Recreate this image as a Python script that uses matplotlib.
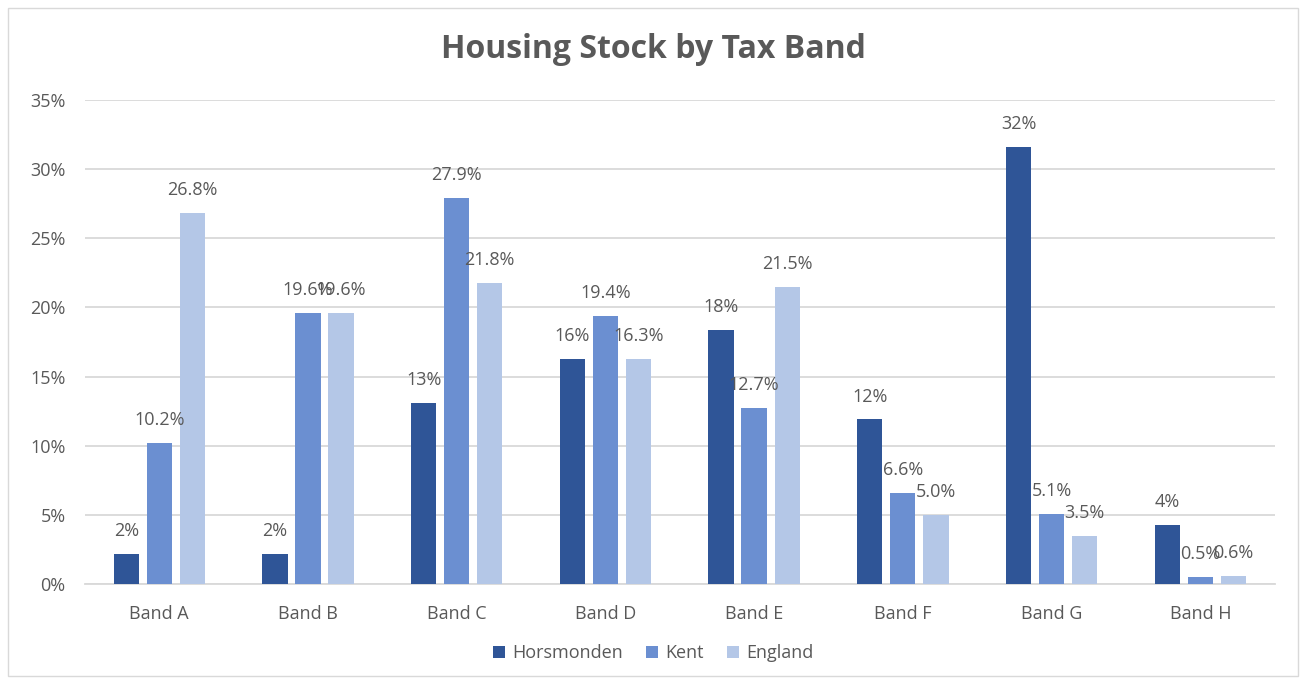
import matplotlib
matplotlib.use("Agg")
import matplotlib.pyplot as plt
import numpy as np
from matplotlib.patches import Rectangle
from matplotlib.ticker import PercentFormatter

bands = ["Band A", "Band B", "Band C", "Band D", "Band E", "Band F", "Band G", "Band H"]
horsmonden = [2.2, 2.2, 13.1, 16.3, 18.4, 11.9, 31.6, 4.3]
kent = [10.2, 19.6, 27.9, 19.4, 12.7, 6.6, 5.1, 0.5]
england = [26.8, 19.6, 21.8, 16.3, 21.5, 5.0, 3.5, 0.6]

series = [
    ("Horsmonden", horsmonden, "#2F5597", "{:.0f}%"),
    ("Kent", kent, "#6B8FD1", "{:.1f}%"),
    ("England", england, "#B4C7E7", "{:.1f}%"),
]

plt.rcParams["font.family"] = ["Open Sans", "DejaVu Sans"]
text_grey = "#595959"
fs = 13

fig = plt.figure(figsize=(13.06, 6.84), dpi=100)
fig.patches.append(Rectangle((0.006, 0.012), 0.988, 0.976, transform=fig.transFigure,
                             fill=False, edgecolor="#D9D9D9", linewidth=1.0))
ax = fig.add_axes([0.065, 0.146, 0.911, 0.708])

x = np.arange(len(bands))
width = 0.17
step = 0.222
for i, (name, vals, color, fmt) in enumerate(series):
    pos = x + (i - 1) * step
    bars = ax.bar(pos, vals, width=width, color=color, label=name, zorder=3)
    for b, v in zip(bars, vals):
        ax.annotate(fmt.format(v), (b.get_x() + b.get_width() / 2, v),
                    xytext=(0, 16.5), textcoords="offset points",
                    ha="center", va="center", fontsize=fs, color=text_grey, zorder=4)

ax.set_xlim(-0.5, len(bands) - 0.5)
ax.set_ylim(0, 35)
ax.set_yticks(np.arange(0, 36, 5))
ax.yaxis.set_major_formatter(PercentFormatter(decimals=0))
ax.set_xticks(x)
ax.set_xticklabels(bands)
ax.grid(axis="y", color="#D9D9D9", linewidth=1.3, zorder=0)
for s in ["top", "right", "left"]:
    ax.spines[s].set_visible(False)
ax.spines["bottom"].set_color("#D9D9D9")
ax.spines["bottom"].set_linewidth(1.3)
ax.tick_params(axis="both", length=0, labelsize=fs, labelcolor=text_grey)
ax.tick_params(axis="x", pad=15)
ax.tick_params(axis="y", pad=14)

fig.text(0.5, 0.927, "Housing Stock by Tax Band", ha="center", va="center",
         fontsize=23, fontweight="bold", color=text_grey)

fig.legend(*ax.get_legend_handles_labels(), loc="center",
           bbox_to_anchor=(0.5, 1 - 653 / 684), bbox_transform=fig.transFigure,
           ncol=3, frameon=False, fontsize=fs, labelcolor=text_grey,
           handlelength=0.65, handleheight=0.65, handletextpad=0.4, columnspacing=1.3)

fig.savefig("out.png", dpi=100)
